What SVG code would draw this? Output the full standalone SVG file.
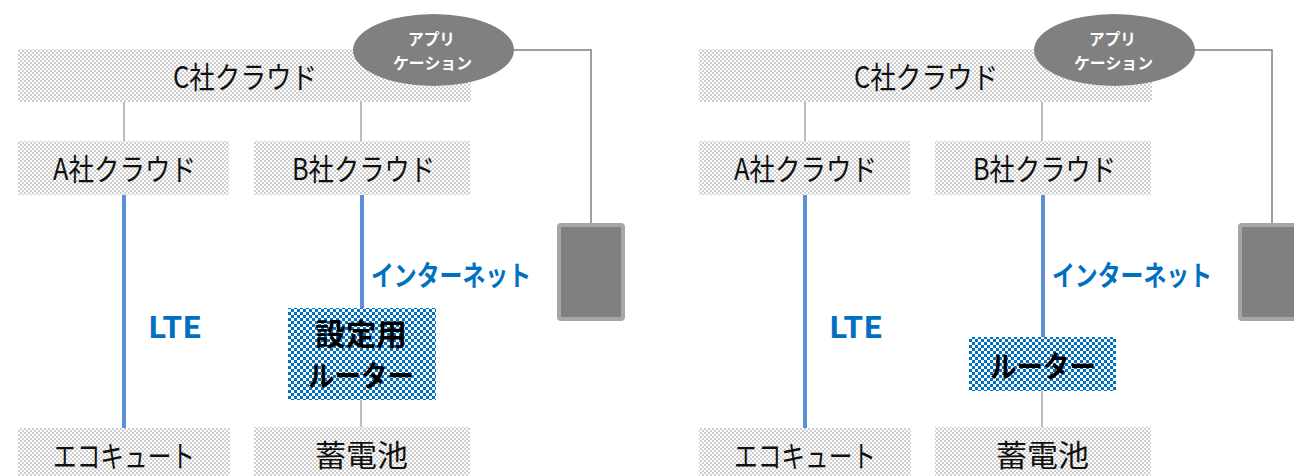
<svg xmlns="http://www.w3.org/2000/svg" width="1294" height="476" viewBox="0 0 1294 476">
<defs>
<pattern id="pg" width="4" height="4" patternUnits="userSpaceOnUse"><rect width="4" height="4" fill="#fff"/><rect width="2" height="2" fill="#cfcfcf"/><rect x="2" y="2" width="2" height="2" fill="#cfcfcf"/></pattern>
<pattern id="pb" width="6" height="6" patternUnits="userSpaceOnUse"><rect width="6" height="6" fill="#fff"/><rect width="3" height="3" fill="#0070c0"/><rect x="3" y="3" width="3" height="3" fill="#0070c0"/></pattern>
<style>
.gbox{fill:url(#pg)}
.bbox{fill:url(#pb)}
.t{font-family:"Noto Sans CJK JP","Noto Sans",sans-serif;font-size:30px;fill:#111}
.tb{font-family:"Noto Sans CJK JP","Noto Sans",sans-serif;font-size:30px;font-weight:bold;fill:#000}
.lbl{font-family:"Noto Sans CJK JP","Noto Sans",sans-serif;font-size:28px;font-weight:bold;fill:#0070c0}
.app{font-family:"Noto Sans CJK JP","Noto Sans",sans-serif;font-size:16px;font-weight:bold;fill:#fff}
.gl{stroke:#a6a6a6;stroke-width:1.5;fill:none}
.dl{stroke:#808080;stroke-width:1.5;fill:none}
.bl{stroke:#5b8fd6;stroke-width:4;fill:none}
.ell{fill:#808080}
.dev{fill:#808080;stroke:#a6a6a6;stroke-width:4}
</style>
</defs>
<g id="connectors">
<line class="gl" x1="124" y1="102" x2="124" y2="141"/>
<line class="gl" x1="361" y1="102" x2="361" y2="141"/>
<line class="bl" x1="124" y1="195" x2="124" y2="428"/>
<line class="bl" x1="362" y1="195" x2="362" y2="308"/>
<line class="gl" x1="361" y1="400" x2="361" y2="427"/>
<polyline class="dl" points="513,50 591,50 591,223"/>
<line class="gl" x1="805" y1="102" x2="805" y2="141"/>
<line class="gl" x1="1042" y1="102" x2="1042" y2="141"/>
<line class="bl" x1="805" y1="195" x2="805" y2="428"/>
<line class="bl" x1="1043" y1="195" x2="1043" y2="337"/>
<line class="gl" x1="1042" y1="391" x2="1042" y2="427"/>
<polyline class="dl" points="1194,50 1272,50 1272,223"/>
</g>
<g id="left-c-cloud"><rect class="gbox" x="18" y="49" width="453" height="53"/><text class="t" x="173" y="88" textLength="144" lengthAdjust="spacingAndGlyphs">C社クラウド</text></g>
<g id="left-app"><ellipse class="ell" cx="433.5" cy="50" rx="80.5" ry="36"/><text class="app" x="408" y="45" textLength="47" lengthAdjust="spacingAndGlyphs">アプリ</text><text class="app" x="393" y="69" textLength="79" lengthAdjust="spacingAndGlyphs">ケーション</text></g>
<g id="left-a-cloud"><rect class="gbox" x="18" y="141" width="211" height="54"/><text class="t" x="53" y="180" textLength="143" lengthAdjust="spacingAndGlyphs">A社クラウド</text></g>
<g id="left-b-cloud"><rect class="gbox" x="254" y="141" width="216" height="54"/><text class="t" x="292" y="180" textLength="143" lengthAdjust="spacingAndGlyphs">B社クラウド</text></g>
<g id="left-device"><rect class="dev" x="559" y="225" width="64" height="94" rx="2"/></g>
<g id="left-lte"><text class="lbl" x="148" y="338" textLength="54" lengthAdjust="spacingAndGlyphs" style="font-size:30px">LTE</text></g>
<g id="left-internet"><text class="lbl" x="371" y="286" textLength="160" lengthAdjust="spacingAndGlyphs">インターネット</text></g>
<g id="left-router"><rect class="bbox" x="288" y="308" width="148" height="92"/><text class="tb" x="315" y="345" textLength="92" lengthAdjust="spacingAndGlyphs">設定用</text><text class="tb" x="308" y="387" textLength="106" lengthAdjust="spacingAndGlyphs" style="font-size:29px">ルーター</text></g>
<g id="left-ecocute"><rect class="gbox" x="18" y="428" width="212" height="48"/><text class="t" x="53" y="467" textLength="142" lengthAdjust="spacingAndGlyphs">エコキュート</text></g>
<g id="left-battery"><rect class="gbox" x="254" y="427" width="216" height="49"/><text class="t" x="315" y="466" textLength="93" lengthAdjust="spacingAndGlyphs">蓄電池</text></g>
<g id="right-c-cloud"><rect class="gbox" x="699" y="49" width="453" height="53"/><text class="t" x="854" y="88" textLength="144" lengthAdjust="spacingAndGlyphs">C社クラウド</text></g>
<g id="right-app"><ellipse class="ell" cx="1114.5" cy="50" rx="80.5" ry="36"/><text class="app" x="1089" y="45" textLength="47" lengthAdjust="spacingAndGlyphs">アプリ</text><text class="app" x="1074" y="69" textLength="79" lengthAdjust="spacingAndGlyphs">ケーション</text></g>
<g id="right-a-cloud"><rect class="gbox" x="699" y="141" width="211" height="54"/><text class="t" x="734" y="180" textLength="143" lengthAdjust="spacingAndGlyphs">A社クラウド</text></g>
<g id="right-b-cloud"><rect class="gbox" x="935" y="141" width="216" height="54"/><text class="t" x="973" y="180" textLength="143" lengthAdjust="spacingAndGlyphs">B社クラウド</text></g>
<g id="right-device"><rect class="dev" x="1240" y="225" width="64" height="94" rx="2"/></g>
<g id="right-lte"><text class="lbl" x="829" y="338" textLength="54" lengthAdjust="spacingAndGlyphs" style="font-size:30px">LTE</text></g>
<g id="right-internet"><text class="lbl" x="1052" y="286" textLength="160" lengthAdjust="spacingAndGlyphs">インターネット</text></g>
<g id="right-router"><rect class="bbox" x="969" y="337" width="147" height="54"/><text class="tb" x="990" y="377" textLength="106" lengthAdjust="spacingAndGlyphs">ルーター</text></g>
<g id="right-ecocute"><rect class="gbox" x="699" y="428" width="212" height="48"/><text class="t" x="734" y="467" textLength="142" lengthAdjust="spacingAndGlyphs">エコキュート</text></g>
<g id="right-battery"><rect class="gbox" x="935" y="427" width="216" height="49"/><text class="t" x="996" y="466" textLength="93" lengthAdjust="spacingAndGlyphs">蓄電池</text></g>
</svg>
